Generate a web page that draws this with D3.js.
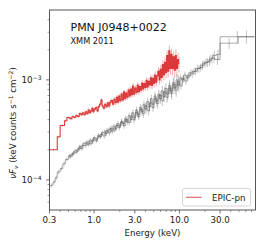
<!DOCTYPE html>
<html>
<head>
<meta charset="utf-8">
<script src="https://cdn.jsdelivr.net/npm/d3@7"></script>
<style>
  body { margin: 0; background: #fff; }
  text { font-family: "DejaVu Sans", sans-serif; }
</style>
</head>
<body>
<script>
let width = 266;
let height = 245;

// spectra: [bin low edge keV, nuFnu, relative error]
let redBins = [
  [0.30, 2.0e-4, 0.02], [0.37, 2.7e-4, 0.03], [0.40, 3.5e-4, 0.03], [0.45, 3.9e-4, 0.03],
  [0.48, 4.2e-4, 0.03], [0.52, 4.1e-4, 0.03], [0.55, 4.3e-4, 0.03], [0.58, 4.2e-4, 0.03],
  [0.61, 4.4e-4, 0.03], [0.64, 4.3e-4, 0.03], [0.67, 4.6e-4, 0.03], [0.70, 4.5e-4, 0.03],
  [0.73, 4.7e-4, 0.03], [0.76, 4.5e-4, 0.03], [0.79, 4.8e-4, 0.03], [0.82, 4.6e-4, 0.03],
  [0.85, 5.0e-4, 0.04], [0.88, 4.7e-4, 0.04], [0.91, 4.9e-4, 0.04], [0.94, 5.2e-4, 0.04],
  [0.97, 4.8e-4, 0.04], [1.00, 5.1e-4, 0.04], [1.04, 5.3e-4, 0.04], [1.08, 4.9e-4, 0.04],
  [1.12, 5.4e-4, 0.04], [1.16, 5.7e-4, 0.04], [1.20, 6.3e-4, 0.04], [1.24, 5.5e-4, 0.04],
  [1.28, 5.2e-4, 0.04], [1.33, 5.7e-4, 0.04], [1.38, 5.4e-4, 0.04], [1.43, 5.9e-4, 0.04],
  [1.48, 5.5e-4, 0.05], [1.53, 6.0e-4, 0.05], [1.58, 6.2e-4, 0.05], [1.64, 5.7e-4, 0.05],
  [1.70, 6.4e-4, 0.05], [1.76, 5.9e-4, 0.05], [1.82, 6.7e-4, 0.05], [1.88, 6.0e-4, 0.05],
  [1.94, 6.9e-4, 0.05], [2.00, 6.2e-4, 0.05], [2.07, 7.2e-4, 0.05], [2.14, 6.3e-4, 0.05],
  [2.21, 7.6e-4, 0.05], [2.28, 6.5e-4, 0.05], [2.35, 7.4e-4, 0.05], [2.42, 6.7e-4, 0.06],
  [2.50, 7.9e-4, 0.06], [2.58, 6.9e-4, 0.06], [2.66, 8.1e-4, 0.06], [2.74, 7.1e-4, 0.06],
  [2.82, 8.7e-4, 0.06], [2.91, 7.2e-4, 0.06], [3.00, 8.3e-4, 0.06], [3.10, 7.5e-4, 0.06],
  [3.20, 8.9e-4, 0.06], [3.30, 7.6e-4, 0.07], [3.40, 8.6e-4, 0.07], [3.50, 7.9e-4, 0.07],
  [3.61, 9.3e-4, 0.07], [3.72, 8.1e-4, 0.07], [3.83, 9.2e-4, 0.07], [3.95, 8.4e-4, 0.07],
  [4.07, 9.9e-4, 0.08], [4.19, 8.5e-4, 0.08], [4.31, 9.7e-4, 0.08], [4.44, 8.9e-4, 0.08],
  [4.57, 1.05e-3, 0.08], [4.70, 8.8e-4, 0.08], [4.84, 1.04e-3, 0.09], [4.98, 9.2e-4, 0.09],
  [5.13, 1.12e-3, 0.09], [5.28, 9.5e-4, 0.09], [5.44, 1.1e-3, 0.10], [5.60, 1.22e-3, 0.10],
  [5.77, 1.0e-3, 0.10], [5.94, 1.28e-3, 0.10], [6.12, 1.06e-3, 0.11], [6.30, 1.42e-3, 0.11],
  [6.49, 1.12e-3, 0.11], [6.68, 1.5e-3, 0.12], [6.88, 1.18e-3, 0.12], [7.08, 1.75e-3, 0.12],
  [7.29, 1.22e-3, 0.13], [7.51, 1.95e-3, 0.13], [7.73, 1.3e-3, 0.14], [7.96, 1.8e-3, 0.14],
  [8.20, 1.3e-3, 0.15], [8.44, 1.7e-3, 0.15], [8.69, 1.25e-3, 0.16], [8.95, 1.75e-3, 0.16],
  [9.22, 1.3e-3, 0.17], [9.50, 1.6e-3, 0.17], [9.78, 1.45e-3, 0.18]
];
let redEnd = 10.0;

let grayABins = [
  [0.30, 8.8e-5, 0.05], [0.33, 9.5e-5, 0.05], [0.35, 1.05e-4, 0.05], [0.37, 1.2e-4, 0.05],
  [0.40, 1.3e-4, 0.05], [0.43, 1.45e-4, 0.05], [0.46, 1.6e-4, 0.05], [0.50, 1.75e-4, 0.05],
  [0.54, 1.8e-4, 0.05], [0.58, 1.95e-4, 0.05], [0.62, 2.0e-4, 0.05], [0.66, 2.15e-4, 0.05],
  [0.70, 2.05e-4, 0.05], [0.74, 2.3e-4, 0.05], [0.78, 2.35e-4, 0.05], [0.83, 2.25e-4, 0.05],
  [0.88, 2.5e-4, 0.05], [0.93, 2.4e-4, 0.05], [0.98, 2.65e-4, 0.05], [1.04, 2.55e-4, 0.05],
  [1.10, 2.8e-4, 0.05], [1.16, 2.7e-4, 0.05], [1.22, 2.95e-4, 0.05], [1.29, 3.0e-4, 0.06],
  [1.36, 2.9e-4, 0.06], [1.43, 3.15e-4, 0.06], [1.51, 3.25e-4, 0.06], [1.59, 3.05e-4, 0.06],
  [1.67, 3.45e-4, 0.06], [1.76, 3.25e-4, 0.06], [1.85, 3.65e-4, 0.06], [1.95, 3.45e-4, 0.06],
  [2.05, 3.85e-4, 0.07], [2.16, 3.65e-4, 0.07], [2.27, 4.1e-4, 0.07], [2.39, 3.8e-4, 0.07],
  [2.51, 4.4e-4, 0.07], [2.64, 4.0e-4, 0.07], [2.78, 4.7e-4, 0.08], [2.92, 4.2e-4, 0.08],
  [3.07, 5.0e-4, 0.08], [3.23, 4.5e-4, 0.08], [3.40, 5.3e-4, 0.08], [3.57, 4.8e-4, 0.09],
  [3.75, 5.7e-4, 0.09], [3.94, 5.1e-4, 0.09], [4.14, 6.1e-4, 0.09], [4.35, 5.4e-4, 0.10],
  [4.57, 6.5e-4, 0.10], [4.80, 5.7e-4, 0.10], [5.04, 6.9e-4, 0.10], [5.30, 6.1e-4, 0.11],
  [5.57, 7.2e-4, 0.11], [5.85, 6.5e-4, 0.11], [6.15, 7.8e-4, 0.12], [6.46, 6.8e-4, 0.12],
  [6.79, 8.2e-4, 0.12], [7.13, 7.2e-4, 0.13], [7.49, 8.8e-4, 0.13], [7.87, 7.7e-4, 0.13],
  [8.27, 9.4e-4, 0.14], [8.69, 8.3e-4, 0.14], [9.13, 1.0e-3, 0.14], [9.59, 8.9e-4, 0.15],
  [10.1, 1.05e-3, 0.08], [10.6, 1.0e-3, 0.08], [11.2, 1.12e-3, 0.08], [12.0, 1.06e-3, 0.08],
  [13.0, 1.18e-3, 0.08], [14.2, 1.22e-3, 0.08], [15.5, 1.3e-3, 0.09], [17.0, 1.33e-3, 0.09],
  [18.6, 1.45e-3, 0.09], [20.4, 1.5e-3, 0.10], [22.4, 1.62e-3, 0.10], [24.6, 1.75e-3, 0.11],
  [27.0, 1.8e-3, 0.12], [30.0, 2.7e-3, 0.14]
];
let grayAEnd = 76;

let grayBBins = [
  [0.50, 1.7e-4, 0.05], [0.55, 1.85e-4, 0.05], [0.60, 1.9e-4, 0.05], [0.65, 2.05e-4, 0.05],
  [0.70, 2.2e-4, 0.05], [0.76, 2.2e-4, 0.05], [0.82, 2.4e-4, 0.05], [0.88, 2.3e-4, 0.05],
  [0.95, 2.55e-4, 0.05], [1.02, 2.45e-4, 0.05], [1.10, 2.7e-4, 0.05], [1.18, 2.85e-4, 0.06],
  [1.27, 2.75e-4, 0.06], [1.36, 3.1e-4, 0.06], [1.46, 2.95e-4, 0.06], [1.56, 3.3e-4, 0.06],
  [1.67, 3.15e-4, 0.06], [1.79, 3.5e-4, 0.06], [1.91, 3.35e-4, 0.07], [2.04, 3.75e-4, 0.07],
  [2.18, 3.5e-4, 0.07], [2.33, 4.0e-4, 0.07], [2.49, 3.75e-4, 0.07], [2.66, 4.35e-4, 0.08],
  [2.84, 4.0e-4, 0.08], [3.03, 4.7e-4, 0.08], [3.23, 4.3e-4, 0.08], [3.45, 5.1e-4, 0.09],
  [3.68, 4.6e-4, 0.09], [3.92, 5.5e-4, 0.09], [4.18, 4.9e-4, 0.10], [4.46, 5.9e-4, 0.10],
  [4.75, 5.3e-4, 0.10], [5.06, 6.5e-4, 0.11], [5.39, 5.8e-4, 0.11], [5.74, 7.0e-4, 0.11],
  [6.11, 6.2e-4, 0.12], [6.51, 7.6e-4, 0.12], [6.93, 6.7e-4, 0.12], [7.38, 8.3e-4, 0.13],
  [7.86, 7.3e-4, 0.13], [8.37, 9.0e-4, 0.14], [8.91, 7.9e-4, 0.14], [9.49, 9.6e-4, 0.15],
  [10.1, 8.7e-4, 0.08], [10.8, 1.03e-3, 0.08], [11.5, 9.7e-4, 0.08], [12.3, 1.1e-3, 0.08],
  [13.5, 1.15e-3, 0.09], [14.8, 1.22e-3, 0.09], [16.2, 1.3e-3, 0.09], [17.8, 1.4e-3, 0.10],
  [19.6, 1.5e-3, 0.10], [21.6, 1.55e-3, 0.11], [23.6, 1.65e-3, 0.11], [26.0, 1.6e-3, 0.12],
  [30.0, 2.33e-3, 0.12], [49.0, 2.7e-3, 0.15]
];
let grayBEnd = 76;

let xTickValues = [0.3, 1.0, 3.0, 10.0, 30.0];
let xTickLabels = ["0.3", "1.0", "3.0", "10.0", "30.0"];
let xMinorTicks = [0.4, 0.5, 0.6, 0.7, 0.8, 0.9, 2, 4, 5, 6, 7, 8, 9, 20, 40, 50, 60, 70];
let yTickValues = [1e-4, 1e-3];
let yTickExponents = ["\u22124", "\u22123"];
let yMinorTicks = [6e-5, 7e-5, 8e-5, 9e-5, 2e-4, 3e-4, 4e-4, 5e-4, 6e-4, 7e-4, 8e-4, 9e-4, 2e-3, 3e-3, 4e-3];

let sourceName = "PMN J0948+0022";
let epochName = "XMM 2011";
let legendLabel = "EPIC-pn";

let plotLeft = 49.5, plotRight = 255.5, plotTop = 10, plotBottom = 210;
let fontSize = 8.7;
let red = "#d62728";

let svg = d3.select("body").append("svg")
            .attr("width", width)
            .attr("height", height);

let x = d3.scaleLog().domain([0.3, 78]).range([plotLeft, plotRight]);
let y = d3.scaleLog().domain([5e-5, 5e-3]).range([plotBottom, plotTop]);

let plot = svg.append("g").attr("clip-path", "url(#clip)");
svg.append("clipPath").attr("id", "clip")
   .append("rect")
   .attr("x", plotLeft).attr("y", plotTop)
   .attr("width", plotRight - plotLeft).attr("height", plotBottom - plotTop);

function stepPoints(bins, end) {
  let pts = bins.map(function(d) { return [d[0], d[1]]; });
  pts.push([end, bins[bins.length - 1][1]]);
  return pts;
}

function binCentres(bins, end) {
  return bins.map(function(d, i) {
    let hi = i < bins.length - 1 ? bins[i + 1][0] : end;
    return { e: Math.sqrt(d[0] * hi), f: d[1], err: d[1] * d[2] };
  });
}

let stepLine = d3.line()
                 .x(function(d) { return x(d[0]); })
                 .y(function(d) { return y(d[1]); })
                 .curve(d3.curveStepAfter);

function drawSpectrum(bins, end, color, lineOpacity, barOpacity, lineWidth) {
  plot.append("g")
      .selectAll("line")
      .data(binCentres(bins, end))
      .enter().append("line")
      .attr("x1", function(d) { return x(d.e); })
      .attr("x2", function(d) { return x(d.e); })
      .attr("y1", function(d) { return y(d.f - d.err); })
      .attr("y2", function(d) { return y(d.f + d.err); })
      .attr("stroke", color)
      .attr("stroke-opacity", barOpacity)
      .attr("stroke-width", 0.8);
  plot.append("path")
      .attr("d", stepLine(stepPoints(bins, end)))
      .attr("fill", "none")
      .attr("stroke", color)
      .attr("stroke-opacity", lineOpacity)
      .attr("stroke-width", lineWidth);
}

drawSpectrum(grayABins, grayAEnd, "#444", 0.5, 0.4, 0.9);
drawSpectrum(grayBBins, grayBEnd, "#444", 0.5, 0.4, 0.9);
drawSpectrum(redBins, redEnd, red, 0.9, 0.45, 1.1);

// frame
svg.append("rect")
   .attr("x", plotLeft).attr("y", plotTop)
   .attr("width", plotRight - plotLeft).attr("height", plotBottom - plotTop)
   .attr("fill", "none")
   .attr("stroke", "#555")
   .attr("stroke-width", 1);

// x axis
let xAxis = svg.append("g").attr("transform", "translate(0," + plotBottom + ")");
xAxis.selectAll(".minor").data(xMinorTicks).enter().append("line")
     .attr("x1", function(d) { return x(d); }).attr("x2", function(d) { return x(d); })
     .attr("y1", 0).attr("y2", 2)
     .attr("stroke", "#555").attr("stroke-width", 0.6);
xAxis.selectAll(".major").data(xTickValues).enter().append("line")
     .attr("x1", function(d) { return x(d); }).attr("x2", function(d) { return x(d); })
     .attr("y1", 0).attr("y2", 3.5)
     .attr("stroke", "#555").attr("stroke-width", 0.8);
xAxis.selectAll("text").data(xTickValues).enter().append("text")
     .attr("x", function(d) { return x(d); })
     .attr("y", 13)
     .attr("text-anchor", "middle")
     .attr("font-size", fontSize)
     .attr("fill", "#222")
     .text(function(d, i) { return xTickLabels[i]; });

svg.append("text")
   .attr("x", (plotLeft + plotRight) / 2)
   .attr("y", 236)
   .attr("text-anchor", "middle")
   .attr("font-size", fontSize)
   .attr("fill", "#222")
   .text("Energy (keV)");

// y axis
let yAxis = svg.append("g").attr("transform", "translate(" + plotLeft + ",0)");
yAxis.selectAll(".minor").data(yMinorTicks).enter().append("line")
     .attr("x1", 0).attr("x2", -2)
     .attr("y1", function(d) { return y(d); }).attr("y2", function(d) { return y(d); })
     .attr("stroke", "#555").attr("stroke-width", 0.6);
yAxis.selectAll(".major").data(yTickValues).enter().append("line")
     .attr("x1", 0).attr("x2", -3.5)
     .attr("y1", function(d) { return y(d); }).attr("y2", function(d) { return y(d); })
     .attr("stroke", "#555").attr("stroke-width", 0.8);
let yLabels = yAxis.selectAll("text").data(yTickValues).enter().append("text")
     .attr("x", -8)
     .attr("y", function(d) { return y(d) + 3.5; })
     .attr("text-anchor", "end")
     .attr("font-size", fontSize)
     .attr("fill", "#222");
yLabels.append("tspan").text("10");
yLabels.append("tspan")
       .attr("font-size", 6)
       .attr("dy", -3.5)
       .text(function(d, i) { return yTickExponents[i]; });

let yTitle = svg.append("text")
   .attr("transform", "translate(16,123) rotate(-90)")
   .attr("text-anchor", "middle")
   .attr("font-size", fontSize)
   .attr("fill", "#222");
yTitle.append("tspan").attr("font-style", "italic").text("\u03bdF");
yTitle.append("tspan").attr("font-style", "italic").attr("font-size", 6).attr("dy", 1.5).text("\u03bd");
yTitle.append("tspan").attr("dy", -1.5).text(" (keV counts s");
yTitle.append("tspan").attr("font-size", 6).attr("dy", -3.5).text("\u22121");
yTitle.append("tspan").attr("dy", 3.5).text(" cm");
yTitle.append("tspan").attr("font-size", 6).attr("dy", -3.5).text("\u22122");
yTitle.append("tspan").attr("dy", 3.5).text(")");

// annotations
svg.append("text")
   .attr("x", 70.5).attr("y", 30.5)
   .attr("font-size", 11)
   .attr("fill", "#111")
   .text(sourceName);
svg.append("text")
   .attr("x", 70.5).attr("y", 44.3)
   .attr("font-size", 8.2)
   .attr("fill", "#111")
   .text(epochName);

// legend
let legend = svg.append("g");
legend.append("rect")
      .attr("x", 182.5).attr("y", 188.5)
      .attr("width", 68).attr("height", 17.5)
      .attr("rx", 2)
      .attr("fill", "#fff").attr("fill-opacity", 0.8)
      .attr("stroke", "#ccc").attr("stroke-width", 0.8);
legend.append("line")
      .attr("x1", 186).attr("x2", 201.5)
      .attr("y1", 197.3).attr("y2", 197.3)
      .attr("stroke", red).attr("stroke-opacity", 0.7).attr("stroke-width", 1.2);
legend.append("text")
      .attr("x", 212).attr("y", 200.5)
      .attr("font-size", fontSize)
      .attr("fill", "#222")
      .text(legendLabel);
</script>
</body>
</html>
